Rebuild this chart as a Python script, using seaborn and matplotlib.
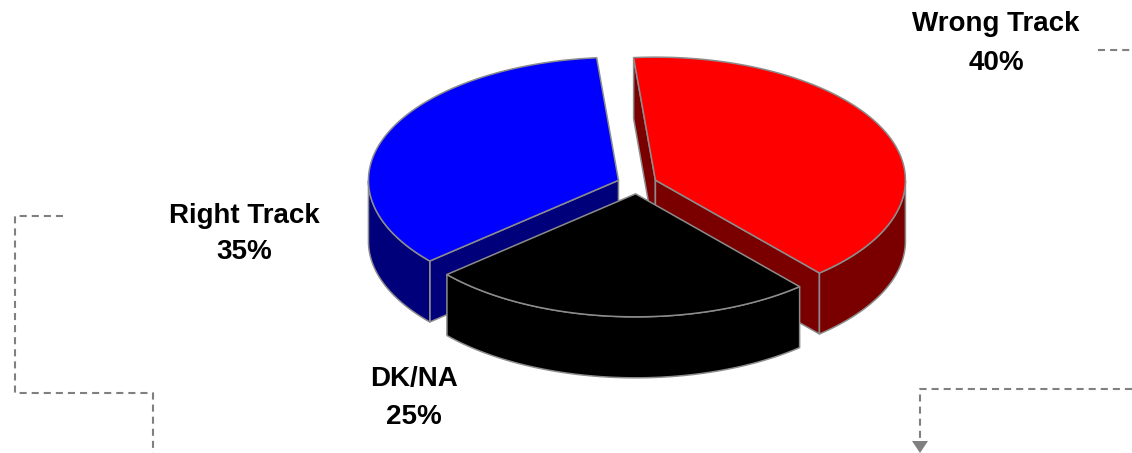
import numpy as np
import matplotlib
matplotlib.use("Agg")
import matplotlib.pyplot as plt
from matplotlib.patches import Polygon
import seaborn as sns

# ---- data ----
categories = ["Wrong Track", "DK/NA", "Right Track"]
values = [40, 25, 35]
pct_labels = ["40%", "25%", "35%"]
top_colors = ["#FF0000", "#000000", "#0000FF"]
side_colors = ["#7A0000", "#000000", "#00007A"]

# label positions (pixel coords: center x, baseline line1, baseline line2)
label_pos = {"Wrong Track": (996, 31, 70),
             "Right Track": (244, 223, 259),
             "DK/NA": (414, 386, 424)}

# decorative connector lines (pixel coords)
conn_left = [(63, 216), (15, 216), (15, 393), (153, 393), (153, 453)]
conn_top_right = [(1098, 50), (1132, 50)]
conn_bottom_right = [(1132, 389), (920, 389), (920, 442)]

sns.set_theme(style="white")
plt.rcParams["font.family"] = ["Liberation Sans", "DejaVu Sans"]

W, H = 1132, 453
fig = plt.figure(figsize=(W / 100, H / 100), dpi=100)
ax = fig.add_axes([0, 0, 1, 1])
ax.set_xlim(0, W)
ax.set_ylim(H, 0)
ax.axis("off")

# pie geometry (pixels)
cx, cy = 637, 184
rx, ry = 250, 123
depth = 61
explode = 0.08
start = 95.0
edge = "#8c8c8c"
lw = 1.1

total = float(sum(values))
slices = []
cum = 0.0
for i, v in enumerate(values):
    t1 = start - cum / total * 360.0
    t2 = t1 - v / total * 360.0
    cum += v
    mid = np.radians((t1 + t2) / 2)
    tx = cx + explode * rx * np.cos(mid)
    ty = cy - explode * ry * np.sin(mid)
    slices.append(dict(i=i, t1=t1, t2=t2, mid=mid, tx=tx, ty=ty))


def P(s, th_deg, z=0.0):
    th = np.radians(th_deg)
    return (s["tx"] + rx * np.cos(th), s["ty"] - ry * np.sin(th) + z)


def poly(pts, fc, z):
    ax.add_patch(Polygon(pts, closed=True, facecolor=fc, edgecolor=edge,
                         lw=lw, joinstyle="round", zorder=z))


# back to front
order = sorted(slices, key=lambda s: -np.sin(s["mid"]))
z = 1
for s in order:
    i = s["i"]
    # radial walls
    if np.cos(np.radians(s["t1"])) < 0:
        a = P(s, s["t1"])
        poly([(s["tx"], s["ty"]), a, (a[0], a[1] + depth),
              (s["tx"], s["ty"] + depth)], side_colors[i], z)
        z += 1
    if np.cos(np.radians(s["t2"])) > 0:
        a = P(s, s["t2"])
        poly([(s["tx"], s["ty"]), a, (a[0], a[1] + depth),
              (s["tx"], s["ty"] + depth)], side_colors[i], z)
        z += 1
    # outer wall (front-facing parts)
    ths = np.linspace(s["t1"], s["t2"], 400)
    front = np.sin(np.radians(ths)) < 0
    runs = []
    cur = []
    for th, f in zip(ths, front):
        if f:
            cur.append(th)
        elif cur:
            runs.append(cur)
            cur = []
    if cur:
        runs.append(cur)
    for run in runs:
        top = [P(s, th) for th in run]
        bot = [P(s, th, depth) for th in run[::-1]]
        poly(top + bot, side_colors[i], z)
        z += 1
    # top face
    arc = [P(s, th) for th in ths]
    poly([(s["tx"], s["ty"])] + arc, top_colors[i], z)
    z += 1

# labels
for cat, pct in zip(categories, pct_labels):
    x, b1, b2 = label_pos[cat]
    ax.text(x, b1, cat, ha="center", va="baseline", fontsize=20,
            fontweight="bold", color="black", zorder=50)
    ax.text(x, b2, pct, ha="center", va="baseline", fontsize=20,
            fontweight="bold", color="black", zorder=50)

# connector lines
dash = (0, (3.4, 2.4))
for seg in (conn_left, conn_top_right, conn_bottom_right):
    xs, ys = zip(*seg)
    ax.plot(xs, ys, color="#808080", lw=1.5, linestyle=dash, zorder=40)
ax.add_patch(Polygon([(912, 441), (928, 441), (920, 453)], closed=True,
                     facecolor="#808080", edgecolor="none", zorder=41))

fig.savefig("out.png", dpi=100)
